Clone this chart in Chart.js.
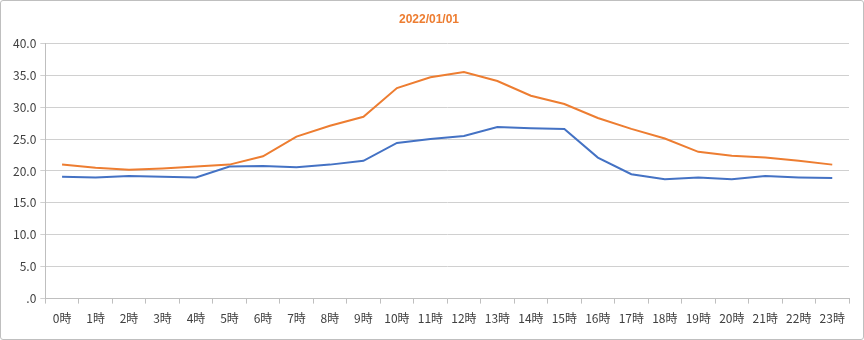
<!DOCTYPE html>
<html>
<head>
<meta charset="utf-8">
<script src="https://cdn.jsdelivr.net/npm/chart.js@4.4.1/dist/chart.umd.min.js"></script>
<style>
  html, body { margin: 0; padding: 0; background: #fff; }
  #wrap {
    position: absolute; left: 0; top: 0;
    width: 862px; height: 338px;
    border: 1px solid #bfbfbf; border-radius: 3px;
    background: #fff;
  }
  canvas { display: block; }
</style>
</head>
<body>
<div id="wrap"><canvas id="chart" width="862" height="338"></canvas></div>
<script>
// hourly readings for the day
var chartTitle = '2022/01/01';
var hours = [];
for (var h = 0; h < 24; h++) hours.push(h + '時');

var seriesBlue = [19.1, 19.0, 19.2, 19.1, 19.0, 20.7, 20.8, 20.6, 21.0, 21.6, 24.4, 25.0,
                  25.5, 26.9, 26.7, 26.6, 22.1, 19.5, 18.7, 19.0, 18.7, 19.2, 19.0, 18.9];
var seriesOrange = [21.0, 20.5, 20.2, 20.4, 20.7, 21.0, 22.3, 25.4, 27.1, 28.5, 33.0, 34.7,
                    35.5, 34.1, 31.8, 30.5, 28.3, 26.6, 25.1, 23.0, 22.4, 22.1, 21.6, 21.0];

var axisFont = { family: "'Noto Sans CJK JP', 'Liberation Sans', sans-serif", size: 12 };

var ctx = document.getElementById('chart').getContext('2d');
var chart = new Chart(ctx, {
  type: 'line',
  data: {
    labels: hours,
    datasets: [
      { label: 'A', data: seriesBlue, borderColor: '#4472C4', backgroundColor: '#4472C4',
        borderWidth: 2, pointRadius: 0, tension: 0 },
      { label: 'B', data: seriesOrange, borderColor: '#ED7D31', backgroundColor: '#ED7D31',
        borderWidth: 2, pointRadius: 0, tension: 0 }
    ]
  },
  options: {
    responsive: false,
    animation: false,
    layout: { padding: { left: 8, right: 14, top: 9, bottom: 5 } },
    plugins: {
      legend: { display: false },
      tooltip: { enabled: false },
      title: {
        display: true,
        text: chartTitle,
        color: '#ED7D31',
        font: { family: "'Liberation Sans', sans-serif", size: 12, weight: 'bold' },
        padding: { top: 2, bottom: 17 }
      }
    },
    scales: {
      x: {
        offset: true,
        grid: { offset: true, drawOnChartArea: false, drawTicks: true, tickLength: 5, color: '#bfbfbf' },
        border: { display: true, color: '#bfbfbf' },
        ticks: { color: '#404040', font: axisFont, maxRotation: 0, autoSkip: false, padding: 8 }
      },
      y: {
        min: 0,
        max: 40,
        grid: { color: '#d0d0d0', tickLength: 5, drawTicks: true },
        border: { display: true, color: '#bfbfbf' },
        ticks: {
          stepSize: 5,
          color: '#404040',
          font: axisFont,
          padding: 4,
          callback: function (v) { return v === 0 ? '.0' : v.toFixed(1); }
        }
      }
    }
  }
});
</script>
</body>
</html>
